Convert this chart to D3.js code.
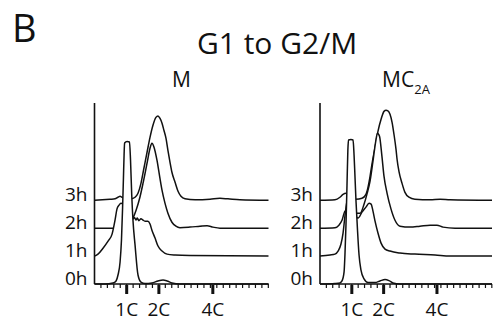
<!DOCTYPE html>
<html>
<head>
<meta charset="utf-8">
<script src="https://cdn.jsdelivr.net/npm/d3@7"></script>
<style>
  html, body { margin: 0; padding: 0; background: #fff; }
  svg { display: block; }
  text { font-family: "Open Sans", "Noto Sans", sans-serif; fill: #111; }
</style>
</head>
<body>
<svg id="chart" width="494" height="324"></svg>
<script>
// DNA content histograms (channel 0-1000, relative counts), one per time point.
const timeLabels = ["0h", "1h", "2h", "3h"];
const tickLabels = ["1C", "2C", "4C"];
const tickChannels = [185, 370, 680];

const M_0h = [[0,0],[60,0],[106,0.5],[124,1.7],[135,5],[147,12.2],[155,24.4],[161,41.1],[166,57.8],[170,71.7],[173,78.3],[187,79.2],[201,78.9],[207,68.9],[214,49.4],[221,35.6],[233,21.7],[250,5],[267,1.1],[290,0.3],[330,0.6],[365,1.7],[394,2.2],[417,1.7],[445,0.6],[491,0],[1000,0]];
const M_1h = [[0,0],[20,1.1],[49,4.4],[78,8.3],[101,12.2],[118,20],[129,26.1],[141,28.3],[152,29.4],[164,29],[193,25],[221,20.6],[230,21.4],[238,20],[246,21.1],[255,19.7],[267,20.8],[279,20],[290,19.4],[307,19.4],[319,17.8],[330,14.4],[348,10],[365,5.6],[388,2.8],[417,1.1],[463,0.6],[549,0.3],[1000,0]];
const M_2h = [[0,0],[89,0],[135,0.3],[175,1.1],[204,2.8],[221,5.6],[239,10],[261,17.2],[279,25],[302,36.1],[319,44.4],[330,47.2],[342,45],[359,37.8],[376,27.8],[388,21.1],[405,13.9],[422,8.3],[445,3.3],[468,1.1],[491,0.3],[549,0.6],[606,1.1],[647,1.4],[681,0.6],[721,0],[1000,0]];
const M_3h = [[0,0],[89,0.6],[118,0.8],[135,1.7],[147,2.2],[158,1.7],[187,0.8],[210,0.8],[233,1.7],[250,3.9],[267,9.4],[284,17.8],[302,26.7],[319,35],[336,41.7],[353,46.1],[365,46.9],[376,45.6],[388,42.8],[399,38.9],[411,34.4],[422,27.8],[434,21.1],[445,15.6],[463,10],[480,5],[497,2.2],[520,0.8],[578,0.3],[664,0.6],[721,1.1],[767,0.8],[836,0.3],[1000,0]];

const MC_0h = [[0,0],[87,0.3],[116,0.6],[128,1.7],[140,6.7],[145,16.1],[151,32.8],[157,55],[162,74.4],[166,80],[180,80.3],[192,80],[198,71.7],[203,60.6],[209,46.7],[218,30],[227,16.1],[238,7.8],[256,2.8],[279,0.8],[320,0.8],[349,1.7],[378,2.5],[401,1.9],[424,0.6],[465,0],[1000,0]];
const MC_1h = [[0,0],[58,0.6],[87,1.1],[105,2.8],[122,6.7],[134,12.8],[145,22.2],[154,28.9],[163,31.7],[180,28.3],[203,23.3],[221,21.1],[244,24.4],[267,27.2],[285,29.4],[297,28.9],[308,25],[320,19.4],[337,12.8],[355,7.2],[378,3.9],[407,2.8],[465,1.7],[552,1.1],[669,0.6],[756,0],[1000,0]];
const MC_2h = [[0,0],[87,0.3],[110,1.7],[128,4.4],[145,9.4],[174,10.6],[209,8.3],[233,8.3],[256,13.3],[273,18.9],[291,26.1],[308,37.2],[326,49.4],[334,52.8],[346,51.1],[360,40],[372,28.9],[390,19.4],[413,10.6],[436,4.4],[465,1.1],[523,0.6],[581,1.1],[640,1.7],[680,1.7],[715,0.6],[785,0],[1000,0]];
const MC_3h = [[0,0],[87,0.3],[116,1.7],[134,3.3],[151,3.9],[186,1.7],[209,0.6],[244,1.1],[267,3.3],[279,7.2],[291,13.3],[302,20],[320,29.4],[337,38.3],[355,45],[372,49.4],[384,50],[395,49.7],[407,47.8],[419,43.3],[430,36.7],[442,28.3],[448,22.8],[459,16.1],[477,9.4],[494,4.4],[517,1.7],[552,0.6],[640,0.3],[698,0.6],[756,0.3],[1000,0]];

// Vertical stacking step between successive time points, in count units.
const stackStep = 15.5;
const minorStep = 37;

const svg = d3.select("#chart");
const ink = "#111";

svg.append("text").attr("x", 12).attr("y", 42)
  .style("font-size", "38px").text("B");
svg.append("text").attr("x", 277).attr("y", 54).attr("text-anchor", "middle")
  .style("font-size", "30px").text("G1 to G2/M");

const panels = [
  { x0: 94.5, x1: 268.5, title: ["M"], curves: [M_0h, M_1h, M_2h, M_3h] },
  { x0: 320, x1: 492, title: ["MC", "2A"], curves: [MC_0h, MC_1h, MC_2h, MC_3h] }
];

const y = d3.scaleLinear().domain([0, 100]).range([284, 104]);

panels.forEach(p => {
  const x = d3.scaleLinear().domain([0, 1000]).range([p.x0, p.x1]);
  const g = svg.append("g");

  // Panel title, with optional subscript
  const t = g.append("text").attr("x", (p.x0 + p.x1) / 2).attr("y", 87)
    .attr("text-anchor", "middle").style("font-size", "21px");
  t.append("tspan").text(p.title[0]);
  if (p.title[1]) {
    t.append("tspan").attr("dy", 7).style("font-size", "13px").text(p.title[1]);
  }

  // Histograms: back (latest) to front (0h), each filled white so it hides the ones behind
  d3.range(p.curves.length - 1, -1, -1).forEach(i => {
    const off = i * stackStep;
    const data = p.curves[i];
    const area = d3.area()
      .x(d => x(d[0])).y0(y(off)).y1(d => y(d[1] + off))
      .curve(d3.curveMonotoneX);
    const line = d3.line()
      .x(d => x(d[0])).y(d => y(d[1] + off))
      .curve(d3.curveMonotoneX);
    g.append("path").datum(data).attr("d", area).attr("fill", "#fff");
    g.append("path").datum(data).attr("d", line)
      .attr("fill", "none").attr("stroke", ink).attr("stroke-width", 1.5)
      .attr("stroke-linejoin", "round");

    g.append("text").attr("x", p.x0 - 7).attr("y", y(off) + 1)
      .attr("text-anchor", "end").style("font-size", "19px").text(timeLabels[i]);
  });

  // Axes
  g.append("line").attr("x1", p.x0).attr("x2", p.x0)
    .attr("y1", y(0)).attr("y2", y(100) - 1)
    .attr("stroke", ink).attr("stroke-width", 1.6);
  g.append("line").attr("x1", p.x0).attr("x2", p.x1)
    .attr("y1", y(0)).attr("y2", y(0))
    .attr("stroke", ink).attr("stroke-width", 1.6);

  const minor = d3.range(minorStep, 1001, minorStep);
  g.selectAll("line.minor").data(minor).join("line").attr("class", "minor")
    .attr("x1", d => x(d)).attr("x2", d => x(d))
    .attr("y1", y(0)).attr("y2", y(0) + 4)
    .attr("stroke", ink).attr("stroke-width", 1.2);

  g.selectAll("line.major").data(tickChannels).join("line").attr("class", "major")
    .attr("x1", d => x(d)).attr("x2", d => x(d))
    .attr("y1", y(0) + 1).attr("y2", y(0) + 10)
    .attr("stroke", ink).attr("stroke-width", 3);

  g.selectAll("text.tick").data(tickChannels).join("text").attr("class", "tick")
    .attr("x", d => x(d)).attr("y", 316).attr("text-anchor", "middle")
    .style("font-size", "19px").text((d, i) => tickLabels[i]);
});
</script>
</body>
</html>
